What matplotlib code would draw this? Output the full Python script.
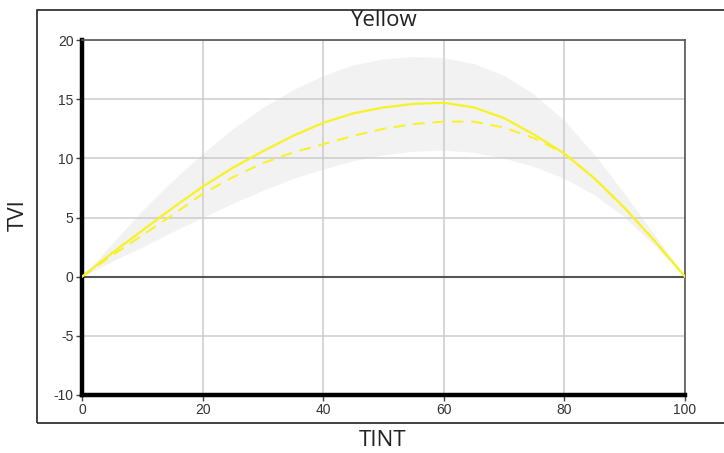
import matplotlib.pyplot as plt
from matplotlib.patches import Rectangle

plt.rcParams['axes.unicode_minus'] = False

# TINT values (x axis)
tint = [0, 5, 10, 15, 20, 25, 30, 35, 40, 45, 50, 55, 60, 65, 70, 75, 80, 85, 90, 95, 100]

# mean curve (solid) and median-ish curve (dashed)
tvi_solid = [0, 2.0, 3.9, 5.8, 7.6, 9.2, 10.6, 11.9, 13.0, 13.8, 14.3, 14.6, 14.7, 14.3, 13.4, 12.0, 10.4, 8.3, 5.8, 3.0, 0]
tvi_dashed = [0, 1.8, 3.5, 5.2, 7.0, 8.4, 9.6, 10.5, 11.2, 11.9, 12.5, 12.9, 13.1, 13.1, 12.6, 11.7, 10.4, 8.3, 5.8, 3.0, 0]

# shaded band
band_upper = [0, 2.8, 5.6, 8.1, 10.4, 12.5, 14.3, 15.8, 17.0, 17.9, 18.4, 18.6, 18.5, 18.0, 17.0, 15.4, 13.2, 10.3, 7.0, 3.5, 0]
band_lower = [0, 1.3, 2.5, 3.8, 5.0, 6.2, 7.3, 8.3, 9.1, 9.8, 10.3, 10.6, 10.7, 10.5, 10.0, 9.3, 8.3, 6.9, 5.0, 2.6, 0]

xticks = [0, 20, 40, 60, 80, 100]
yticks = [-10, -5, 0, 5, 10, 15, 20]

fig = plt.figure(figsize=(7.24, 4.53), dpi=100)
ax = fig.add_axes([82/724, 1-395/453, 603/724, 355/453])

# outer frame around the whole chart
fig.patches.append(Rectangle((37/724, 1-423/453), 1.0, 413/453, transform=fig.transFigure,
                             fill=False, edgecolor='#222222', linewidth=1.2))

ax.fill_between(tint, band_lower, band_upper, color='#f2f2f2', zorder=0.4, linewidth=0)
ax.plot(tint, tvi_solid, color='#f7f224', linewidth=1.6, zorder=3)
ax.plot(tint, tvi_dashed, color='#f7f224', linewidth=1.4, linestyle=(0, (6, 4)), zorder=3)
ax.axhline(0, color='#555555', linewidth=1.5, zorder=2)

ax.set_xlim(0, 100)
ax.set_ylim(-10, 20)
ax.set_xticks(xticks)
ax.set_yticks(yticks)
ax.set_axisbelow(True)
ax.grid(True, color='#cccccc', linewidth=1.1)

ax.spines['left'].set_linewidth(3.2)
ax.spines['left'].set_color('black')
ax.spines['bottom'].set_linewidth(3.2)
ax.spines['bottom'].set_color('black')
ax.spines['top'].set_linewidth(1.2)
ax.spines['top'].set_color('#555555')
ax.spines['right'].set_linewidth(1.2)
ax.spines['right'].set_color('#555555')

ax.tick_params(axis='both', length=4, width=1, color='#444444', labelcolor='#333333',
               labelsize=10, pad=2)
for lab in ax.get_xticklabels() + ax.get_yticklabels():
    lab.set_fontfamily('Liberation Sans')

# title and axis labels placed by pixel centre
fig.text(383/724, 1-21/453, 'Yellow', ha='center', va='center',
         fontsize=16, family='Open Sans', color='#222222')
fig.text(18/724, 1-215/453, 'TVI', ha='center', va='center', rotation=90,
         fontsize=16, family='Open Sans', color='#222222')
fig.text(383/724, 1-440/453, 'TINT', ha='center', va='center',
         fontsize=16, family='Open Sans', color='#222222')

plt.savefig('out.png', dpi=100)
